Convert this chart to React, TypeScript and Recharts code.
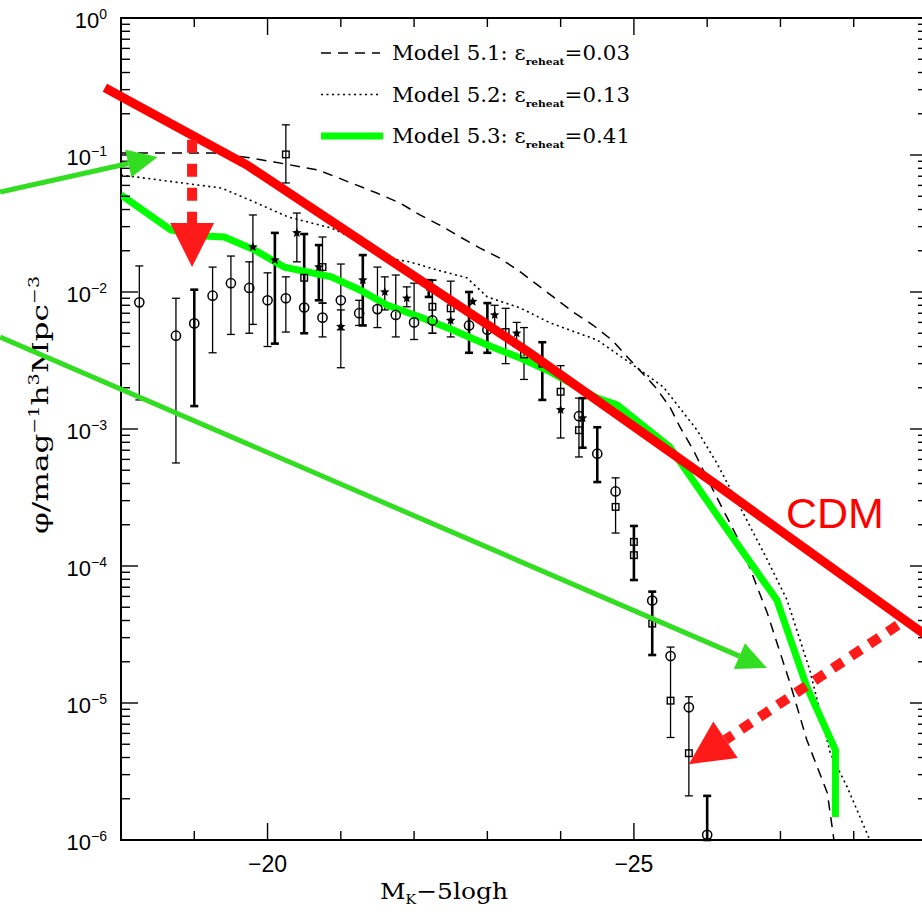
import {
  ComposedChart,
  LineChart,
  Line,
  Scatter,
  ErrorBar,
  XAxis,
  YAxis,
  ReferenceArea,
  Legend,
  Label,
} from "recharts";

// Plot frame, in page pixels. The right edge of the frame sits just outside
// the 922px window, as in the reference.
const CHART_W = 940;
const CHART_H = 912;
const FRAME = { left: 121, top: 18, width: 806, height: 822 };
const X_AXIS_H = 72;
const Y_TICK_MARGIN = 14;

const X_DOMAIN: [number, number] = [-29, -18];
const Y_DOMAIN: [number, number] = [1e-6, 1];

const xTicks = [-28, -27, -26, -25, -24, -23, -22, -21, -20, -19];
const yDecades = [1e-6, 1e-5, 1e-4, 1e-3, 1e-2, 1e-1, 1];
// minor log ticks 2..9 x 10^n
const yTicks = yDecades.flatMap((d, i) =>
  i === yDecades.length - 1 ? [d] : [d, 2, 3, 4, 5, 6, 7, 8, 9].map((k, j) => (j === 0 ? d : k * d)),
);

// model curves [M_K - 5logh, phi]
const model51 = [
  [-18.0, 0.1035], [-19.27, 0.1035], [-19.77, 0.0951], [-20.09, 0.0889], [-20.69, 0.0778],
  [-21.49, 0.0528], [-21.81, 0.0446], [-22.08, 0.0365], [-22.35, 0.0308], [-22.63, 0.0252],
  [-22.9, 0.0209], [-23.17, 0.0177], [-23.45, 0.014], [-23.72, 0.0109], [-24.17, 0.00715],
  [-24.44, 0.00574], [-24.7, 0.00446], [-24.91, 0.00336], [-25.29, 0.00203], [-25.49, 0.00145],
  [-25.63, 0.00103], [-25.81, 7.03e-4], [-26.08, 3.59e-4], [-26.45, 1.47e-4], [-26.82, 4.54e-5],
  [-27.13, 1.4e-5], [-27.36, 5.37e-6], [-27.64, 2.2e-6], [-27.73, 1e-6],
];
const model52 = [
  [-18.0, 0.0714], [-19.37, 0.0574], [-19.82, 0.0454], [-20.28, 0.0353], [-20.87, 0.0293],
  [-21.3, 0.0228], [-21.63, 0.0177], [-21.94, 0.0166], [-22.31, 0.0145], [-22.72, 0.0127],
  [-23.0, 0.0092], [-23.45, 0.00764], [-23.86, 0.00594], [-24.5, 0.00446], [-24.95, 0.00303],
  [-25.4, 0.00203], [-25.86, 9.84e-4], [-26.13, 5.65e-4], [-26.54, 2.17e-4], [-26.82, 1.11e-4],
  [-27.09, 5.65e-5], [-27.4, 1.74e-5], [-27.68, 4.31e-6], [-27.91, 2.44e-6], [-28.22, 1e-6],
];
const model53 = [
  [-18.0, 0.0511], [-18.68, 0.0284], [-19.13, 0.0256], [-19.41, 0.0252], [-19.82, 0.0203],
  [-20.23, 0.0152], [-20.87, 0.0129], [-21.26, 0.01035], [-21.63, 0.00804], [-22.08, 0.00657],
  [-22.53, 0.00528], [-23.0, 0.0041], [-23.45, 0.0033], [-23.86, 0.00261], [-24.5, 0.00168],
  [-24.77, 0.0015], [-25.49, 7.39e-4], [-26.18, 2.17e-4], [-26.95, 5.65e-5], [-27.36, 1.31e-5],
  [-27.75, 4.54e-6], [-27.75, 1.47e-6],
];

// observations [x, phi, low, high, thick bar]
const circles = [
  [-18.25, 8.4e-3, 1.63e-3, 0.0155, 0], [-18.75, 4.8e-3, 5.65e-4, 9.0e-3, 0],
  [-19.0, 5.9e-3, 1.47e-3, 0.0104, 1], [-19.25, 9.4e-3, 3.6e-3, 0.0152, 0],
  [-19.5, 0.0116, 4.9e-3, 0.0183, 0], [-19.75, 0.0107, 5.0e-3, 0.0166, 0],
  [-20.0, 8.7e-3, 4.0e-3, 0.0138, 0], [-20.25, 9.0e-3, 5.1e-3, 0.0129, 0],
  [-20.5, 7.7e-3], [-20.75, 6.5e-3, 4.7e-3, 8.3e-3, 0],
  [-21.0, 8.7e-3, 5.3e-3, 0.016, 0], [-21.25, 7.0e-3, 5.7e-3, 8.7e-3, 0],
  [-21.5, 7.5e-3, 5.5e-3, 0.0152, 0], [-21.75, 6.8e-3, 4.7e-3, 0.0133, 0],
  [-22.0, 6.0e-3, 4.5e-3, 0.0116, 0], [-22.25, 6.2e-3, 5.0e-3, 0.0122, 0],
  [-22.75, 5.7e-3, 3.6e-3, 0.01, 1], [-23.0, 5.3e-3, 3.6e-3, 8.3e-3, 1],
  [-24.25, 1.24e-3, 6.25e-4, 1.68e-3, 0], [-24.5, 6.6e-4, 4.1e-4, 1.03e-3, 1],
  [-24.75, 3.5e-4, 1.74e-4, 4.4e-4, 0], [-25.25, 5.6e-5, 2.24e-5, 6.5e-5, 1],
  [-25.5, 2.2e-5, 5.6e-6, 2.56e-5, 0], [-25.75, 9.3e-6, 2.1e-6, 1.11e-5, 0],
  [-26.0, 1.09e-6, 1e-6, 2.1e-6, 1],
];
const squares = [
  [-20.25, 0.101, 0.0625, 0.166, 0], [-20.5, 0.0127, 5.0e-3, 0.0265, 1],
  [-20.75, 0.0152, 8.3e-3, 0.0252, 0], [-22.25, 7.8e-3, 5.0e-3, 0.0122, 0],
  [-22.5, 7.6e-3, 4.7e-3, 0.012, 0], [-23.25, 5.1e-3, 3.0e-3, 7.6e-3, 0],
  [-23.5, 3.5e-3, 2.3e-3, 5.5e-3, 0], [-23.75, 3.0e-3, 1.63e-3, 4.3e-3, 1],
  [-24.0, 1.87e-3, 8.6e-4, 2.9e-3, 0], [-24.25, 9.8e-4], [-24.75, 2.7e-4],
  [-25.0, 1.5e-4, 7.9e-5, 1.96e-4, 1], [-25.0, 1.2e-4], [-25.25, 3.8e-5],
  [-25.5, 1.04e-5], [-25.75, 4.3e-6],
];
const stars = [
  [-19.8, 0.0213, 5.8e-3, 0.0365, 0], [-20.1, 0.0171, 4.2e-3, 0.027, 1],
  [-20.4, 0.027, 0.0166, 0.0377, 0], [-20.7, 0.0152, 8.7e-3, 0.022, 1],
  [-21.0, 5.6e-3, 2.8e-3, 7.4e-3, 0], [-21.3, 0.0122, 5.7e-3, 0.0186, 1],
  [-21.6, 0.01, 7.4e-3, 0.0129, 0], [-21.9, 9.0e-3, 7.8e-3, 0.0109, 0],
  [-22.2, 0.0109, 9.2e-3, 0.0122, 1], [-22.5, 6.2e-3], [-22.8, 8.5e-3],
  [-23.1, 6.8e-3, 5.3e-3, 8.0e-3, 0], [-23.4, 5.0e-3, 4.0e-3, 6.0e-3, 0],
  [-24.0, 1.38e-3], [-24.3, 1.2e-3, 7.3e-4, 1.68e-3, 1],
];

// annotations drawn over the figure
const cdmLine = [[-17.78, 0.31], [-19.72, 0.0845], [-23.58, 3.59e-3], [-26.17, 3.77e-4], [-29.17, 2.65e-5]];
const greenArrowTop = [[-16.35, 0.0537], [-18.1, 0.0867]];
const greenArrowLow = [[-16.35, 4.69e-3], [-26.44, 2.2e-5]];
const redArrowDown = [[-18.97, 0.129], [-18.97, 0.0319]];
const redArrowLeft = [[-28.6, 3.7e-5], [-26.25, 5.39e-6]];

const legendRows = [
  { label: "Model 5.1: ", eps: "0.03", stroke: "#000", width: 1.5, dash: "10 7" },
  { label: "Model 5.2: ", eps: "0.13", stroke: "#000", width: 1.6, dash: "2 3.5" },
  { label: "Model 5.3: ", eps: "0.41", stroke: "#00ff00", width: 7, dash: undefined },
];

const GREEN = "#00ff00";
const ARROW_GREEN = "#33dd22";
const RED = "#ff0000";
const ARROW_RED = "#ff1a1a";
const SANS = "'Liberation Sans', Arial, sans-serif";
const SERIF = "'DejaVu Serif', serif";

const toXY = (pts: number[][]) => pts.map(([x, y]) => ({ x, y }));
const allObs = [...circles, ...squares, ...stars];
const barsOf = (thick: number) =>
  allObs
    .filter((o) => o.length > 2 && o[4] === thick)
    .map(([x, y, lo, hi]) => ({ x, y, err: [y - lo, hi - y] }));

// overlay scale: same mapping as the frame, stretched to the full svg
const LOG_TOP = Math.log10(Y_DOMAIN[1]);
const LOG_BOTTOM = Math.log10(Y_DOMAIN[0]);
const xAt = (px: number) =>
  X_DOMAIN[1] - ((px - FRAME.left) * (X_DOMAIN[1] - X_DOMAIN[0])) / FRAME.width;
const yAt = (py: number) =>
  10 ** (LOG_TOP - ((py - FRAME.top) * (LOG_TOP - LOG_BOTTOM)) / FRAME.height);
const OVER_X: [number, number] = [xAt(CHART_W), xAt(0)];
const OVER_Y: [number, number] = [yAt(CHART_H), yAt(0)];

function starPoints(cx: number, cy: number, r: number) {
  const pts: string[] = [];
  for (let i = 0; i < 10; i++) {
    const rr = i % 2 === 0 ? r : r * 0.45;
    const a = -Math.PI / 2 + (i * Math.PI) / 5;
    pts.push(`${cx + rr * Math.cos(a)},${cy + rr * Math.sin(a)}`);
  }
  return pts.join(" ");
}

const CircleMark = (p: any) => (
  <circle cx={p.cx} cy={p.cy} r={4.6} fill="none" stroke="#000" strokeWidth={1.5} />
);
const SquareMark = (p: any) => (
  <rect x={p.cx - 3.3} y={p.cy - 3.3} width={6.6} height={6.6} fill="none" stroke="#000" strokeWidth={1.4} />
);
const StarMark = (p: any) => <polygon points={starPoints(p.cx, p.cy, 5)} fill="#000" />;
const NoMark = () => <g />;

// arrow head drawn at the last point, pointing along the last segment
function arrowHead(color: string, len: number, half: number) {
  let prev = { x: 0, y: 0 };
  return (p: any) => {
    const { cx, cy, index } = p;
    if (index === 0) {
      prev = { x: cx, y: cy };
      return <g key={`t${index}`} />;
    }
    const d = Math.hypot(cx - prev.x, cy - prev.y) || 1;
    const ux = (cx - prev.x) / d;
    const uy = (cy - prev.y) / d;
    const pts = [
      [cx + ux * len, cy + uy * len],
      [cx - uy * half, cy + ux * half],
      [cx + uy * half, cy - ux * half],
    ];
    return <polygon key={`h${index}`} points={pts.map((q) => q.join(",")).join(" ")} fill={color} />;
  };
}

function YTick(props: any) {
  const { x, y, payload } = props;
  const lg = Math.log10(payload.value);
  const e = Math.round(lg);
  const major = Math.abs(lg - e) < 1e-6;
  const ax = x + Y_TICK_MARGIN;
  const len = major ? 17 : 9;
  const right = ax + FRAME.width;
  return (
    <g>
      <line x1={ax} x2={ax + len} y1={y} y2={y} stroke="#000" strokeWidth={1.4} />
      <line x1={right - len} x2={right} y1={y} y2={y} stroke="#000" strokeWidth={1.4} />
      {major && (
        <text x={x} y={y + 10} textAnchor="end" fontFamily={SANS} fontSize={22} fill="#000">
          10
          <tspan dy={-9} fontSize={14}>
            {e === 0 ? "0" : `−${-e}`}
          </tspan>
        </text>
      )}
    </g>
  );
}

function XTick(props: any) {
  const { x, y, payload } = props;
  const v = payload.value;
  const major = v % 5 === 0;
  const len = major ? 17 : 9;
  const top = y - FRAME.height;
  return (
    <g>
      <line x1={x} x2={x} y1={y} y2={y - len} stroke="#000" strokeWidth={1.4} />
      <line x1={x} x2={x} y1={top} y2={top + len} stroke="#000" strokeWidth={1.4} />
      {major && (
        <text x={x} y={y + 32} textAnchor="middle" fontFamily={SANS} fontSize={23} fill="#000">
          {`−${-v}`}
        </text>
      )}
    </g>
  );
}

function YTitle() {
  const tx = 48;
  const ty = 405;
  return (
    <text
      x={tx}
      y={ty}
      transform={`rotate(-90, ${tx}, ${ty})`}
      textAnchor="middle"
      fontFamily={SERIF}
      fontSize={23}
      fill="#000"
      textLength={258}
      lengthAdjust="spacingAndGlyphs"
    >
      φ/mag
      <tspan dy={-9} fontSize={14}>−1</tspan>
      <tspan dy={9}>h</tspan>
      <tspan dy={-9} fontSize={14}>3</tspan>
      <tspan dy={9}>Mpc</tspan>
      <tspan dy={-9} fontSize={14}>−3</tspan>
    </text>
  );
}

function XTitle() {
  return (
    <text
      x={444}
      y={899}
      textAnchor="middle"
      fontFamily={SERIF}
      fontSize={23}
      fill="#000"
      textLength={128}
      lengthAdjust="spacingAndGlyphs"
    >
      M
      <tspan dy={5} fontSize={13}>K</tspan>
      <tspan dy={-5}>−5logh</tspan>
    </text>
  );
}

function LegendBox() {
  return (
    <svg width={340} height={125}>
      {legendRows.map((r, i) => {
        const cy = 23 + i * 41.5;
        return (
          <g key={r.label}>
            <line x1={11} x2={i === 2 ? 73 : 70} y1={cy} y2={cy} stroke={r.stroke} strokeWidth={r.width} strokeDasharray={r.dash} />
            <text
              x={82}
              y={cy + 7}
              fontFamily={SERIF}
              fontSize={20}
              fill="#000"
              textLength={238}
              lengthAdjust="spacingAndGlyphs"
            >
              {r.label}ε
              <tspan dy={5} fontSize={10} fontWeight="bold">reheat</tspan>
              <tspan dy={-5}>={r.eps}</tspan>
            </text>
          </g>
        );
      })}
    </svg>
  );
}

export default function App() {
  return (
    <div style={{ position: "absolute", left: 0, top: 0, width: 922, height: 912, overflow: "hidden", background: "#fff" }}>
      <ComposedChart
        width={CHART_W}
        height={CHART_H}
        margin={{
          top: FRAME.top,
          right: CHART_W - FRAME.left - FRAME.width,
          bottom: CHART_H - FRAME.top - FRAME.height - X_AXIS_H,
          left: 0,
        }}
      >
        <XAxis
          dataKey="x"
          type="number"
          domain={X_DOMAIN}
          reversed
          allowDataOverflow
          ticks={xTicks}
          interval={0}
          height={X_AXIS_H}
          tickSize={0}
          tickMargin={0}
          axisLine={false}
          tickLine={false}
          tick={(p: any) => <XTick {...p} />}
        >
          <Label content={() => <XTitle />} />
        </XAxis>
        <YAxis
          dataKey="y"
          type="number"
          scale="log"
          domain={Y_DOMAIN}
          allowDataOverflow
          ticks={yTicks}
          interval={0}
          width={FRAME.left}
          tickSize={0}
          tickMargin={Y_TICK_MARGIN}
          axisLine={false}
          tickLine={false}
          tick={(p: any) => <YTick {...p} />}
        >
          <Label content={() => <YTitle />} />
        </YAxis>
        <ReferenceArea x1={X_DOMAIN[0]} x2={X_DOMAIN[1]} y1={Y_DOMAIN[0]} y2={Y_DOMAIN[1]} fill="none" stroke="#000" strokeWidth={2} />

        <Scatter data={barsOf(0)} shape={NoMark} isAnimationActive={false}>
          <ErrorBar dataKey="err" direction="y" width={4} stroke="#000" strokeWidth={1.3} />
        </Scatter>
        <Scatter data={barsOf(1)} shape={NoMark} isAnimationActive={false}>
          <ErrorBar dataKey="err" direction="y" width={4} stroke="#000" strokeWidth={2.6} />
        </Scatter>
        <Scatter data={toXY(circles)} shape={CircleMark} isAnimationActive={false} />
        <Scatter data={toXY(squares)} shape={SquareMark} isAnimationActive={false} />
        <Scatter data={toXY(stars)} shape={StarMark} isAnimationActive={false} />

        <Line data={toXY(model51)} dataKey="y" stroke="#000" strokeWidth={1.5} strokeDasharray="10 7" dot={false} activeDot={false} isAnimationActive={false} />
        <Line data={toXY(model52)} dataKey="y" stroke="#000" strokeWidth={1.6} strokeDasharray="2 3.5" dot={false} activeDot={false} isAnimationActive={false} />
        <Line data={toXY(model53)} dataKey="y" stroke={GREEN} strokeWidth={7} dot={false} activeDot={false} isAnimationActive={false} />

        <Legend
          layout="vertical"
          align="center"
          verticalAlign="middle"
          wrapperStyle={{ left: 310, top: 30, width: 340 }}
          content={() => <LegendBox />}
        />
      </ComposedChart>

      <div style={{ position: "absolute", left: 0, top: 0, pointerEvents: "none" }}>
        <LineChart width={CHART_W} height={CHART_H} margin={{ top: 0, right: 0, bottom: 0, left: 0 }}>
          <XAxis dataKey="x" type="number" hide domain={OVER_X} reversed allowDataOverflow />
          <YAxis dataKey="y" type="number" hide scale="log" domain={OVER_Y} allowDataOverflow />
          <Line data={toXY(cdmLine)} dataKey="y" stroke={RED} strokeWidth={9} dot={false} activeDot={false} isAnimationActive={false} />
          <Line data={toXY(greenArrowTop)} dataKey="y" stroke={ARROW_GREEN} strokeWidth={5} dot={arrowHead(ARROW_GREEN, 30, 14)} activeDot={false} isAnimationActive={false} />
          <Line data={toXY(greenArrowLow)} dataKey="y" stroke={ARROW_GREEN} strokeWidth={5} dot={arrowHead(ARROW_GREEN, 30, 14)} activeDot={false} isAnimationActive={false} />
          <Line data={toXY(redArrowDown)} dataKey="y" stroke={ARROW_RED} strokeWidth={10} strokeDasharray="13 11" dot={arrowHead(ARROW_RED, 44, 22)} activeDot={false} isAnimationActive={false} />
          <Line data={toXY(redArrowLeft)} dataKey="y" stroke={ARROW_RED} strokeWidth={10} strokeDasharray="12 10" dot={arrowHead(ARROW_RED, 44, 22)} activeDot={false} isAnimationActive={false} />
          <text x={786} y={528} fontFamily={SANS} fontSize={43} fill={RED}>
            CDM
          </text>
        </LineChart>
      </div>
    </div>
  );
}
